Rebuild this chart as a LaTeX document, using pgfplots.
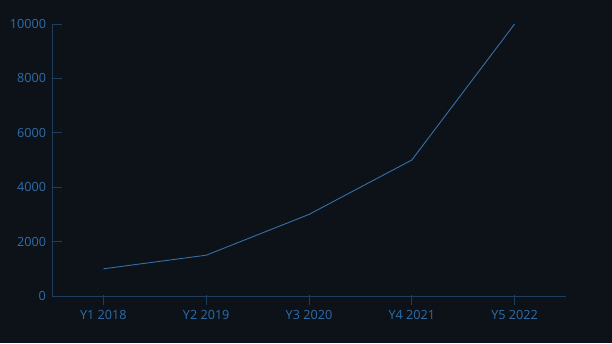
\documentclass[border=0pt]{standalone}
\usepackage{pgfplots}
\pgfplotsset{compat=1.18}
\usepackage{fontspec}
\setmainfont{Open Sans}
\definecolor{bg}{HTML}{0D1118}
\definecolor{lbl}{HTML}{2F6DAA}
\definecolor{axc}{HTML}{1F3D5E}
\definecolor{ln}{HTML}{3570A8}
\begin{document}
\begin{tikzpicture}[x=1bp,y=1bp]
\fill[bg] (0,0) rectangle (612,343);
\useasboundingbox (0,0) rectangle (612,343);
\begin{axis}[
  at={(52bp,47bp)}, anchor=south west,
  scale only axis, width=514bp, height=272bp,
  xmin=-0.5, xmax=4.5, ymin=0, ymax=10000,
  axis lines=left, axis line style={-, draw=axc, line width=0.8bp},
  xtick={0,1,2,3,4},
  xticklabels={Y1 2018, Y2 2019, Y3 2020, Y4 2021, Y5 2022},
  ytick={0,2000,4000,6000,8000,10000},
  scaled y ticks=false,
  /pgf/number format/assume math mode=true,
  /pgf/number format/1000 sep={},
  tick align=inside, major tick length=10bp,
  tick style={draw=axc, line width=0.8bp},
  xtick style={yshift=-9bp},
  ticklabel style={font=\fontsize{12.7}{15}\selectfont, text=lbl},
  xticklabel style={yshift=-10.5bp},
  yticklabel style={xshift=-2.5bp},
]
\addplot[ln, line width=0.9bp, mark=none] coordinates {
  (0,1000) (1,1500) (2,3000) (3,5000) (4,10000)
};
\end{axis}
\end{tikzpicture}
\end{document}
